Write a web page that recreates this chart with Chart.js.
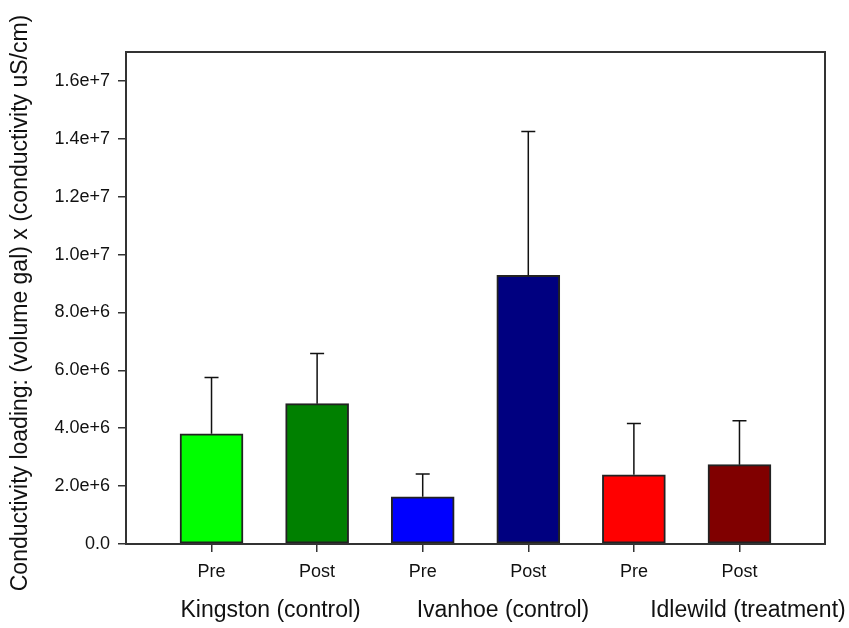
<!DOCTYPE html>
<html>
<head>
<meta charset="utf-8">
<script src="https://cdn.jsdelivr.net/npm/chart.js@4"></script>
<style>
  body { margin: 0; background: #fff; }
  #wrap { width: 849px; height: 628px; }
</style>
</head>
<body>
<div id="wrap"><canvas id="graph"></canvas></div>
<script>
'use strict';

// bar labels and values
var categories = ['Pre', 'Post', 'Pre', 'Post', 'Pre', 'Post'];
var means      = [3.81e6, 4.85e6, 1.63e6, 9.28e6, 2.39e6, 2.74e6];
var errTops    = [5.75e6, 6.58e6, 2.42e6, 14.25e6, 4.16e6, 4.26e6];
var barColors  = ['#00ff00', '#008000', '#0000ff', '#000080', '#ff0000', '#800000'];
var yTicks     = [0, 2e6, 4e6, 6e6, 8e6, 1e7, 1.2e7, 1.4e7, 1.6e7];

// site names under the Pre/Post pairs, placed in x-axis units
var groups     = ['Kingston (control)', 'Ivanhoe (control)', 'Idlewild (treatment)'];
var groupPos   = [0.56, 2.76, 5.08];

var yTitle = 'Conductivity loading: (volume gal) x (conductivity uS/cm)';
var FONT = '"Liberation Sans", Arial, sans-serif';

var points = means.map(function (v, i) { return { x: i, y: v }; });

// error bars (upper whisker only) + frame + site names + y title
var extras = {
    id: 'extras',
    afterDatasetsDraw: function (chart) {
        var ctx = chart.ctx;
        var xs = chart.scales.x, ys = chart.scales.y;
        ctx.save();
        ctx.strokeStyle = '#111';
        ctx.lineWidth = 1.5;
        errTops.forEach(function (e, i) {
            var px = xs.getPixelForValue(i);
            var top = ys.getPixelForValue(e);
            var base = ys.getPixelForValue(means[i]);
            ctx.beginPath();
            ctx.moveTo(px, base);
            ctx.lineTo(px, top);
            ctx.moveTo(px - 7, top);
            ctx.lineTo(px + 7, top);
            ctx.stroke();
        });
        var a = chart.chartArea;
        ctx.strokeStyle = '#333';
        ctx.lineWidth = 2;
        ctx.strokeRect(a.left, a.top, a.right - a.left, a.bottom - a.top);

        ctx.fillStyle = '#111';
        ctx.font = '23px ' + FONT;
        ctx.textAlign = 'center';
        ctx.textBaseline = 'middle';
        groups.forEach(function (g, i) {
            ctx.fillText(g, xs.getPixelForValue(groupPos[i]), 611);
        });

        ctx.translate(21, 303);
        ctx.rotate(-Math.PI / 2);
        ctx.fillText(yTitle, 0, 0);
        ctx.restore();
    }
};

new Chart(document.getElementById('graph'), {
    type: 'bar',
    data: {
        datasets: [{
            data: points,
            backgroundColor: barColors,
            borderColor: '#222',
            borderWidth: 2,
            borderSkipped: false,
            barThickness: 63
        }]
    },
    options: {
        responsive: true,
        maintainAspectRatio: false,
        animation: false,
        layout: { padding: { top: 52, right: 24, left: 0, bottom: 0 } },
        plugins: {
            legend: { display: false },
            tooltip: { enabled: false }
        },
        scales: {
            x: {
                type: 'linear',
                min: -0.81,
                max: 5.81,
                offset: false,
                afterBuildTicks: function (scale) {
                    scale.ticks = categories.map(function (c, i) { return { value: i }; });
                },
                afterFit: function (scale) { scale.height = 84; },
                ticks: {
                    callback: function (v) { return categories[v]; },
                    color: '#111',
                    font: { family: FONT, size: 18 },
                    padding: 9,
                    maxRotation: 0,
                    autoSkip: false
                },
                grid: { offset: false, drawOnChartArea: false, drawTicks: true, tickLength: 8, color: '#333', lineWidth: 1.5 },
                border: { display: false }
            },
            y: {
                min: 0,
                max: 1.7e7,
                afterBuildTicks: function (scale) {
                    scale.ticks = yTicks.map(function (v) { return { value: v }; });
                },
                afterFit: function (scale) { scale.width = 126; },
                ticks: {
                    callback: function (v) { return v === 0 ? '0.0' : v.toExponential(1); },
                    color: '#111',
                    font: { family: FONT, size: 18 },
                    padding: 8,
                    autoSkip: false
                },
                grid: { drawOnChartArea: false, drawTicks: true, tickLength: 8, color: '#333', lineWidth: 1.5 },
                border: { display: false }
            }
        }
    },
    plugins: [extras]
});
</script>
</body>
</html>
